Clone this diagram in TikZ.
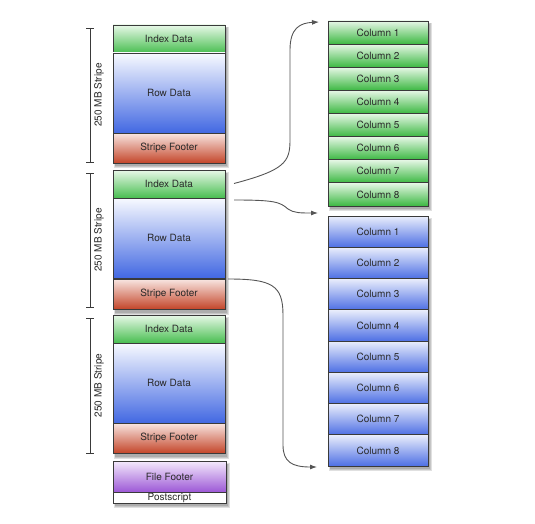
\documentclass[tikz,border=0pt]{standalone}
\usepackage{fontspec}
\setmainfont{TeX Gyre Heros}
\usetikzlibrary{arrows.meta,calc}
\definecolor{txt}{HTML}{2A2A2A}
\definecolor{frame}{HTML}{3A3A3A}
\definecolor{arr}{HTML}{555555}
\begin{document}
\begin{tikzpicture}[x=1pt,y=-1pt,
  cell/.style={draw=frame,line width=0.8pt,anchor=north west,inner sep=0pt,outer sep=0pt,
    font=\fontsize{10}{11}\selectfont,text=txt,minimum width=112pt},
  idxs/.style={cell,minimum height=28pt,top color={rgb,255:red,232;green,248;blue,232},bottom color={rgb,255:red,72;green,190;blue,80}},
  rowd/.style={cell,minimum height=80pt,top color={rgb,255:red,248;green,250;blue,255},bottom color={rgb,255:red,66;green,104;blue,226}},
  foot/.style={cell,minimum height=30pt,top color={rgb,255:red,248;green,230;blue,226},bottom color={rgb,255:red,196;green,70;blue,42}},
  ffoot/.style={cell,minimum height=31pt,minimum width=113pt,top color={rgb,255:red,244;green,234;blue,252},bottom color={rgb,255:red,156;green,88;blue,214}},
  pscr/.style={cell,minimum height=11pt,minimum width=113pt,fill=white},
  gcol/.style={cell,minimum width=100pt,minimum height=23.125pt,top color={rgb,255:red,230;green,247;blue,230},bottom color={rgb,255:red,60;green,184;blue,66}},
  bcol/.style={cell,minimum width=100pt,minimum height=31.25pt,top color={rgb,255:red,234;green,238;blue,252},bottom color={rgb,255:red,78;green,112;blue,228}},
  shad/.style={fill=black,opacity=0.12},
  conn/.style={draw=arr,line width=0.9pt,-{Latex[length=7pt,width=5pt]}},
  brk/.style={draw=frame,line width=0.8pt},
  brklab/.style={font=\fontsize{10}{11}\selectfont,text=txt,rotate=90}
]
\useasboundingbox (0,0) rectangle (535,524);
% shadows
\foreach \a/\b/\c/\d in {113/25/225/163, 113/170/225/310, 113/315/225/454, 113/461/226/503, 328/21/428/206, 328/216/428/466}{
  \fill[shad] (\a+1,\b+2) rectangle (\c+4,\d+5);
  \fill[shad] (\a+1.5,\b+2.5) rectangle (\c+3,\d+4);
  \fill[shad] (\a+2,\b+3) rectangle (\c+2,\d+3);
}
% stripe 1
\node[idxs] (idx1) at (113,25) {Index Data};
\node[rowd] (row1) at (113,53) {Row Data};
\node[foot] (ft1) at (113,133) {Stripe Footer};
% stripe 2
\node[idxs] (idx2) at (113,170) {Index Data};
\node[rowd] (row2) at (113,198) {Row Data};
\node[foot] (ft2) at (113,279) {Stripe Footer};
% stripe 3
\node[idxs] (idx3) at (113,315) {Index Data};
\node[rowd] (row3) at (113,343) {Row Data};
\node[foot] (ft3) at (113,423) {Stripe Footer};
% file footer
\node[ffoot] (ff) at (113,461) {File Footer};
\node[pscr] (ps) at (113,492) {Postscript};
% green columns
\foreach \i in {1,...,8}{
  \node[gcol] (g\i) at (328,{21+(\i-1)*23.125}) {Column \i};
}
% blue columns
\foreach \i in {1,...,8}{
  \node[bcol] (b\i) at (328,{216+(\i-1)*31.25}) {Column \i};
}
% brackets
\foreach \t/\b/\n in {28/162/1, 173/307/2, 318/453/3}{
  \coordinate (bt\n) at (90,\t);
  \coordinate (bb\n) at (90,\b);
  \draw[brk] (bt\n) -- (bb\n);
  \draw[brk] ($(bt\n)+(-4,0)$) -- ($(bt\n)+(4,0)$);
  \draw[brk] ($(bb\n)+(-4,0)$) -- ($(bb\n)+(4,0)$);
  \node[brklab] (lab\n) at ($(bt\n)!0.5!(bb\n)+(9,0)$) {250 MB Stripe};
}
% connectors
\coordinate (s1) at ($(idx2.east)+(9,-0.5)$);
\coordinate (e1) at ($(g1.north west)+(-9,1)$);
\coordinate (s2) at ($(row2.north east)+(9,2)$);
\coordinate (e2) at ($(b1.north west)+(-10,-3)$);
\coordinate (s3) at ($(ft2.north east)+(3,0)$);
\coordinate (e3) at ($(b8.south west)+(-11,1)$);
\draw[conn] (s1) .. controls (285,170) and (290,162) .. (290,140)
  -- (290,50) .. controls (290,28) and (300,23) .. (e1);
\draw[conn] (s2) .. controls (275,200) and (280,202) .. (288,209)
  .. controls (294,213) and (300,213) .. (e2);
\draw[conn] (s3) .. controls (272,279) and (283,285) .. (283,315)
  -- (283,445) .. controls (283,462) and (292,467) .. (e3);
\end{tikzpicture}
\end{document}
